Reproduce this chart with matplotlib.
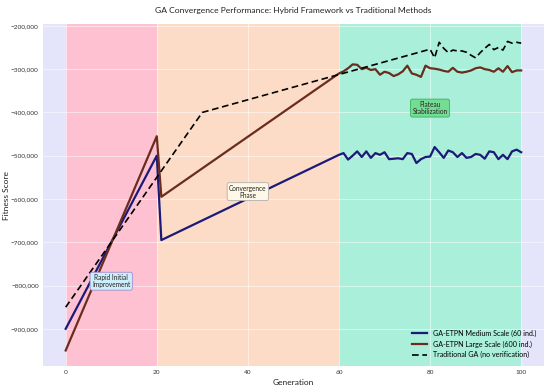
import matplotlib
matplotlib.use("Agg")
import matplotlib.pyplot as plt
from matplotlib.ticker import FuncFormatter

# ---- data ----
gen_med = [0, 20, 21, 60] + list(range(61, 101))
fit_med = [-900000, -500000, -695000, -498000,
           -494000, -509000, -500000, -490000, -503000, -490000, -505000, -494000, -498000, -492000,
           -508000, -507000, -506000, -508000, -494000, -496000, -517000, -508000, -503000, -502000,
           -480000, -492000, -505000, -488000, -492000, -503000, -494000, -505000, -503000, -496000,
           -498000, -507000, -490000, -492000, -508000, -498000, -508000, -490000, -486000, -492000]

gen_large = [0, 20, 21, 60] + list(range(61, 101))
fit_large = [-950000, -455000, -595000, -310000,
             -305000, -298000, -289000, -290000, -300000, -297000, -302000, -300000, -313000, -306000,
             -309000, -316000, -312000, -305000, -292000, -310000, -313000, -318000, -292000, -298000,
             -299000, -301000, -304000, -306000, -297000, -306000, -308000, -306000, -303000, -298000,
             -296000, -300000, -302000, -306000, -298000, -306000, -293000, -307000, -303000, -303000]

gen_trad = [0, 30] + list(range(80, 101))
fit_trad = [-850000, -400000,
            -254000, -274000, -238000, -252000, -262000, -256000, -258000, -258000, -261000, -268000,
            -274000, -262000, -252000, -243000, -255000, -250000, -256000, -236000, -240000, -238000,
            -240000]

phases = [(0, 20), (20, 60), (60, 100)]
phase_labels = ["Rapid Initial\nImprovement", "Convergence\nPhase", "Plateau\nStabilization"]
phase_label_pos = [(10, -790000), (40, -583000), (80, -390000)]

series_labels = ["GA-ETPN Medium Scale (60 ind.)", "GA-ETPN Large Scale (600 ind.)",
                 "Traditional GA (no verification)"]

plt.rcParams["font.family"] = ["Lato", "DejaVu Sans"]

# ---- figure ----
fig = plt.figure(figsize=(5.5, 3.89), dpi=100)
ax = fig.add_axes([0.078, 0.059, 0.911, 0.879])
ax.set_facecolor("#e4e4fa")
for s in ax.spines.values():
    s.set_visible(False)
ax.grid(True, color="white", linewidth=0.6, alpha=0.6, zorder=0)
ax.set_axisbelow(True)

span_colors = ["#ffc0d0", "#fedcc4", "#a6f0d8"]
for (a, b), c in zip(phases, span_colors):
    ax.axvspan(a, b, color=c, alpha=0.95, lw=0, zorder=0.5)

ax.plot(gen_med, fit_med, color="#1c1a78", lw=1.6, label=series_labels[0], zorder=3)
ax.plot(gen_large, fit_large, color="#6a2c1e", lw=1.6, label=series_labels[1], zorder=3)
ax.plot(gen_trad, fit_trad, color="black", lw=1.2, ls=(0, (4, 2.2)), label=series_labels[2], zorder=3)

box_styles = [dict(boxstyle="round,pad=0.3", fc="#cdeefa", ec="#a08ad0", lw=0.6),
              dict(boxstyle="round,pad=0.3", fc="#fff8e6", ec="#b0b0b0", lw=0.6),
              dict(boxstyle="round,pad=0.3", fc="#74dc93", ec="#3cb060", lw=0.6)]
for txt, (x, y), bs in zip(phase_labels, phase_label_pos, box_styles):
    ax.text(x, y, txt, ha="center", va="center", fontsize=4.7, color="#222222",
            bbox=bs, zorder=4, linespacing=1.0)

ax.set_xlim(-5, 105)
ax.set_ylim(-986000, -196000)
ax.set_xticks([0, 20, 40, 60, 80, 100])
ax.set_yticks([-900000, -800000, -700000, -600000, -500000, -400000, -300000, -200000])
ax.yaxis.set_major_formatter(FuncFormatter(lambda v, p: f"{v:,.0f}".replace("-", "\u2212")))
ax.tick_params(axis="both", length=0, labelsize=4.6, colors="#333333", pad=3)

ax.set_xlabel("Generation", fontsize=6, color="#222222", labelpad=3)
ax.set_ylabel("Fitness Score", fontsize=6, color="#222222")
ax.yaxis.set_label_coords(-0.066, 0.5)
ax.set_title("GA Convergence Performance: Hybrid Framework vs Traditional Methods",
             fontsize=6.1, color="#222222", pad=8)

ax.legend(loc="lower right", fontsize=5.1, frameon=False, handlelength=2.2, borderaxespad=0.7,
          labelspacing=0.5)

fig.savefig("out.png", dpi=100)
